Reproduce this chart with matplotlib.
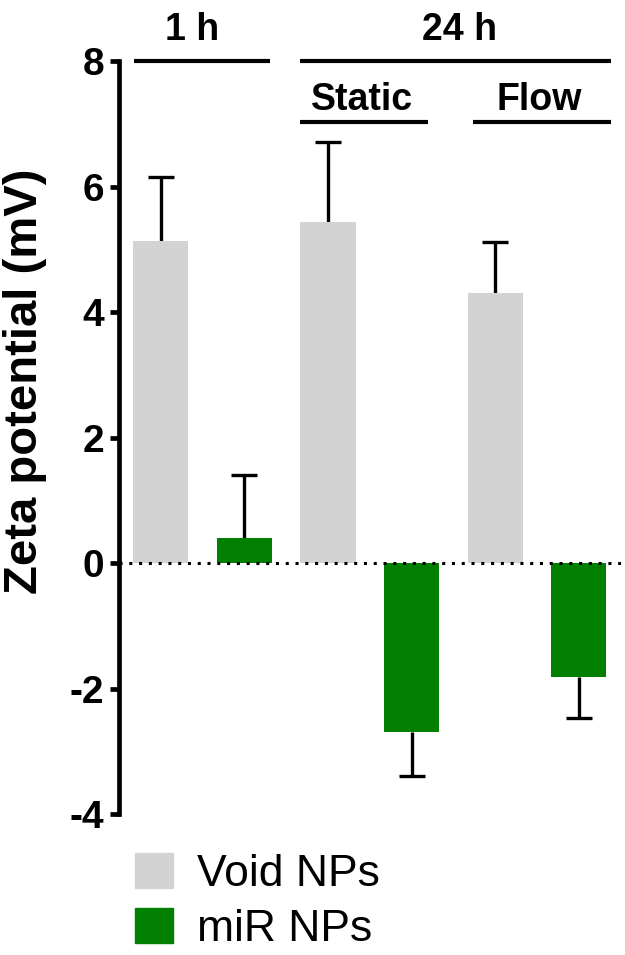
import numpy as np
import matplotlib
matplotlib.use("Agg")
import matplotlib.pyplot as plt
from matplotlib.patches import Patch

plt.rcParams['font.family'] = ['Liberation Sans', 'DejaVu Sans']

# bar order: 1 h void, 1 h miR, static void, static miR, flow void, flow miR
means = [5.13, 0.40, 5.43, -2.69, 4.30, -1.82]
errors = [1.02, 1.00, 1.28, 0.70, 0.82, 0.65]
colors = ['#d3d3d3', '#007f00', '#d3d3d3', '#007f00', '#d3d3d3', '#007f00']
series = ['Void NPs', 'miR NPs']
yticks = [-4, -2, 0, 2, 4, 6, 8]

fig = plt.figure(figsize=(6.25, 9.55), dpi=100)
ax = fig.add_axes([0.1904, 0.1476, 0.8026, 0.7885])

x = np.arange(len(means))
m = np.array(means)
e = np.array(errors)
ax.bar(x, m, width=0.66, color=colors, zorder=2)

# one-sided error bars pointing away from zero
tips = m + np.sign(m) * e
ax.vlines(x, m, tips, color='black', lw=2.4, zorder=1)
ax.hlines(tips, x - 0.155, x + 0.155, color='black', lw=2.4, zorder=1)

ax.axhline(0, color='black', ls=(0, (1, 2.2)), lw=2.2, zorder=3)

ax.set_xlim(-0.5, 5.5)
ax.set_ylim(-4, 8)
ax.set_yticks(yticks)
ax.set_yticklabels([str(t) for t in yticks], fontsize=28, fontweight='bold')
ax.set_xticks([])
for s in ['top', 'right', 'bottom']:
    ax.spines[s].set_visible(False)
ax.spines['left'].set_linewidth(3.4)
ax.tick_params(axis='y', width=3.4, length=6.5, pad=4)
ax.set_ylabel('Zeta potential (mV)', fontsize=34, fontweight='bold')
ax.yaxis.set_label_coords(-0.143, 0.575)

# group brackets above the bars
kw = dict(color='black', lw=3, clip_on=False, solid_capstyle='butt')
ax.plot([-0.32, 1.31], [8.0, 8.0], **kw)
ax.plot([1.67, 5.38], [8.0, 8.0], **kw)
ax.plot([1.67, 3.20], [7.03, 7.03], **kw)
ax.plot([3.73, 5.38], [7.03, 7.03], **kw)
tkw = dict(ha='center', va='center', fontsize=27, fontweight='bold')
ax.text(0.38, 8.5, '1 h', **tkw)
ax.text(3.57, 8.5, '24 h', **tkw)
ax.text(2.41, 7.38, 'Static', **tkw)
ax.text(4.53, 7.38, 'Flow', **tkw)

handles = [Patch(color=colors[0], label=series[0]),
           Patch(color=colors[1], label=series[1])]
fig.legend(handles=handles, loc='upper left', bbox_to_anchor=(0.216, 0.107),
           frameon=False, fontsize=32, handlelength=0.86, handleheight=0.83,
           handletextpad=0.54, labelspacing=0.31, borderpad=0, borderaxespad=0)

fig.savefig('out.png', dpi=100)
